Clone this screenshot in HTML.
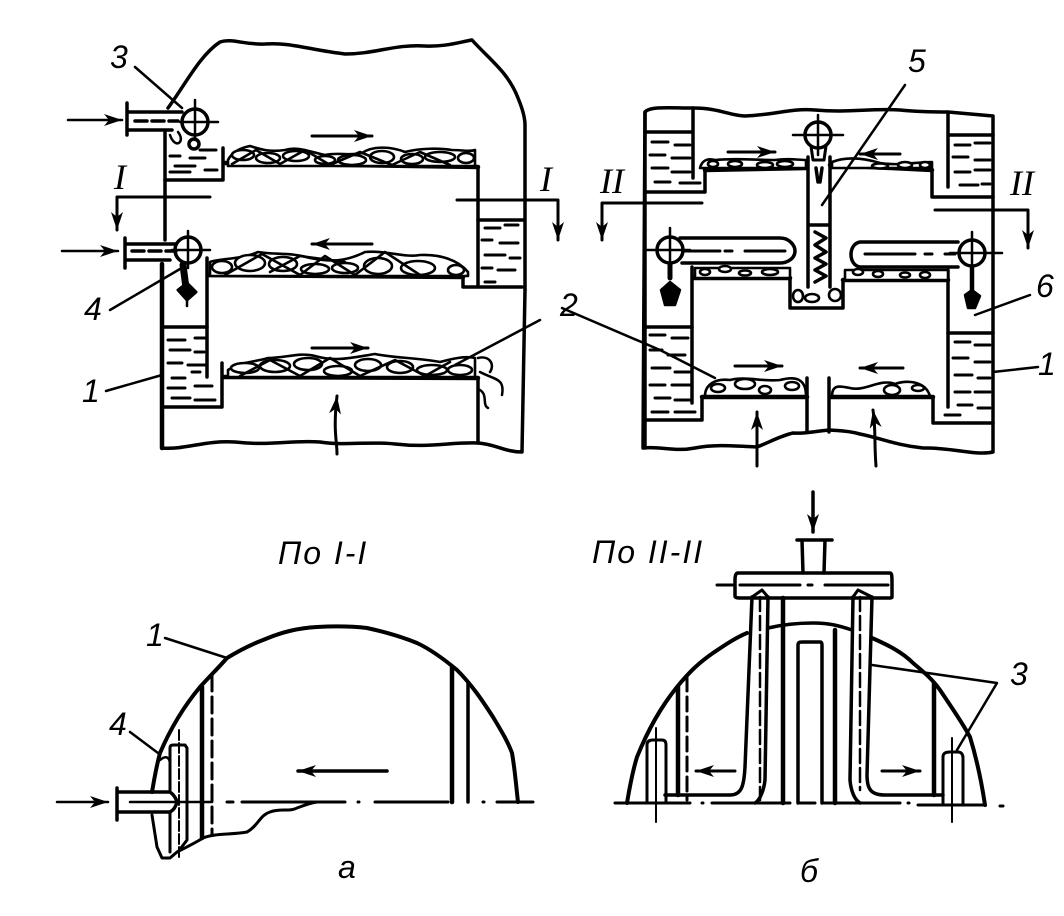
<!DOCTYPE html>
<html><head><meta charset="utf-8"><style>
html,body{margin:0;padding:0;background:#fff}
svg{display:block}
.t{font-family:"Liberation Sans",sans-serif;font-style:italic;fill:#000}
.s{font-family:"Liberation Serif",serif;font-style:italic;fill:#000}
</style></head><body>
<svg width="1064" height="916" viewBox="0 0 1064 916" xmlns="http://www.w3.org/2000/svg">
<defs>
<marker id="a" markerWidth="22" markerHeight="14" refX="18" refY="6" orient="auto" markerUnits="userSpaceOnUse"><path d="M0 0L18 6L0 12L5 6Z" fill="#000"/></marker>
</defs>
<g fill="none" stroke="#000" stroke-width="3.5" stroke-linejoin="round" stroke-linecap="round">

<!-- PANEL A -->
<path d="M168 108C185 85 200 55 220 42C232 38 245 45 265 44C290 42 310 50 345 54C375 54 395 44 425 46C445 47 460 42 472 40C490 60 508 72 518 98C523 110 525 118 525 125V290" />
<path d="M525 290L522 452C505 452 495 444 478 443C450 442 430 448 395 444C370 441 345 446 320 442C290 440 270 446 235 442C205 440 185 450 162 448V264"/>
<path d="M165 131V240" />
<path d="M162 264V448" stroke-width="4.5"/>
<path d="M165 180H223V148M225 163L478 167V287M463 275V287H522"/>
<path d="M225 163L478 167" stroke-width="4.5"/>
<path d="M478 220H524"/>
<path d="M207 258V377M208 275L463 277"/>
<path d="M208 275L463 277" stroke-width="4.5"/>
<path d="M162 327H207M162 407H222V363M223 377L478 378V443"/>
<path d="M223 377L478 378" stroke-width="4.5"/>
<path d="M117 197H210M117 197V230" marker-end="url(#a)" stroke-width="3"/>
<path d="M457 200H558V240" marker-end="url(#a)" stroke-width="3"/>
<!-- pipes A -->
<path d="M127 103V135M127 112H182M127 130H172"/>
<path d="M68 120H122" marker-end="url(#a)" stroke-width="2.5"/>
<path d="M62 251H118" marker-end="url(#a)" stroke-width="2.5"/>
<path d="M125 238V268M125 244H177M125 260H170"/>
<circle cx="195" cy="122" r="13" fill="#fff"/><path d="M195 100V140M180 122H218" stroke-width="2.5"/>
<circle cx="188" cy="250" r="13" fill="#fff"/><path d="M188 231V268M172 250H210" stroke-width="2.5"/>
<path d="M135 121H178M132 251H176" stroke-dasharray="12 5"/>
<circle cx="194" cy="144" r="5"/>
<path d="M170 135C175 150 186 142 178 132" stroke-width="2.5"/>
<path d="M183 265L186 288" stroke-width="7"/><path d="M178 290L187 283L196 292L187 300Z" fill="#000" stroke-width="3"/>
<path d="M187 298V306" stroke-width="2.5"/>
<!-- liquid A -->
<g stroke-width="3">
<path d="M170 156H180M190 158H205M175 166H195M205 170H217M170 172H190M200 150H216"/>
<path d="M485 228H500M505 225H518M482 240H492M500 243H518M485 255H505M510 258H520M482 268H492M498 270H515M485 282H495"/>
<path d="M168 340H185M195 338H205M170 350H190M195 352H204M168 363H182M188 365H205M172 378H185M192 372H200M168 388H185M195 386H212M172 398H190M195 400H215"/>
</g>
<!-- rocks A1 -->
<g stroke-width="2.6" fill="#fff">
<path d="M228 160C232 152 240 148 250 146C262 150 270 152 285 150C298 146 310 152 325 155C338 152 350 156 362 153C372 146 390 146 405 152C420 148 440 148 452 150C462 150 470 152 475 150V166H228Z"/>
<ellipse cx="243" cy="155" rx="11" ry="5"/><ellipse cx="268" cy="158" rx="12" ry="5"/><ellipse cx="296" cy="156" rx="13" ry="5"/><ellipse cx="325" cy="160" rx="10" ry="4"/><ellipse cx="352" cy="160" rx="14" ry="5"/><ellipse cx="382" cy="157" rx="12" ry="6"/><ellipse cx="412" cy="159" rx="11" ry="5"/><ellipse cx="440" cy="157" rx="15" ry="5"/><ellipse cx="466" cy="158" rx="8" ry="5"/>
<path fill="none" d="M232 164L256 150L280 164L305 150L330 165L360 152L392 165L420 152L450 165"/>
<!-- rocks A2 -->
<path d="M210 262C220 258 240 260 258 252C275 255 290 252 310 258C330 262 345 262 365 252C385 250 405 258 420 255C440 254 458 260 468 272V276H210Z"/>
<ellipse cx="222" cy="267" rx="10" ry="6"/><ellipse cx="250" cy="263" rx="15" ry="8"/><ellipse cx="283" cy="264" rx="14" ry="7"/><ellipse cx="315" cy="269" rx="14" ry="5"/><ellipse cx="345" cy="268" rx="13" ry="5"/><ellipse cx="378" cy="266" rx="14" ry="8"/><ellipse cx="418" cy="268" rx="17" ry="7"/><ellipse cx="456" cy="270" rx="8" ry="5"/>
<path fill="none" d="M225 275L262 254L300 275L325 256L355 275L385 252L420 275M270 272L300 256L345 262"/>
<!-- rocks A3 -->
<path d="M228 370C240 362 255 362 268 358C285 358 300 352 315 356C335 362 350 358 375 354C395 358 420 358 440 362C455 358 465 356 475 358V377H228Z"/>
<ellipse cx="245" cy="368" rx="14" ry="5"/><ellipse cx="275" cy="366" rx="15" ry="6"/><ellipse cx="308" cy="364" rx="14" ry="6"/><ellipse cx="338" cy="371" rx="14" ry="5"/><ellipse cx="368" cy="365" rx="13" ry="6"/><ellipse cx="400" cy="367" rx="13" ry="6"/><ellipse cx="432" cy="370" rx="15" ry="5"/><ellipse cx="460" cy="370" rx="12" ry="5"/>
<path fill="none" d="M240 376L270 360L300 376L330 358L360 376L395 360L425 376L450 362"/>
</g>
<path d="M478 358C490 355 495 365 490 372M480 372C495 380 505 378 502 395M480 390C488 395 482 405 488 408" stroke-width="2.5"/>
<!-- flow arrows A -->
<path d="M312 136H372" marker-end="url(#a)" stroke-width="3"/>
<path d="M372 244H312" marker-end="url(#a)" stroke-width="3"/>
<path d="M312 348H368" marker-end="url(#a)" stroke-width="3"/>
<path d="M337 454C337 440 333 432 337 396" marker-end="url(#a)" stroke-width="3"/>
<!-- leaders A -->
<g stroke-width="2.5">
<path d="M135 67L182 108M110 310L180 269M106 391L162 375M455 365L540 320"/>
</g>

<!-- PANEL B -->
<path d="M645 112C650 106 670 108 693 108C720 108 730 116 745 116C775 115 790 108 815 110C850 113 870 108 900 110C920 112 935 112 948 112L993 116V452C975 456 950 447 923 448C895 445 880 438 860 434C845 430 838 431 830 430C815 431 805 434 793 433C780 436 770 442 757 447C735 446 715 444 695 448C675 452 660 446 643 448Z"/>
<path d="M645 112V448"/>
<path d="M645 132H693M693 108V178M645 192H705V168M705 170L807 168M830 165L932 170V197H993M948 113V187M948 135H993"/>
<path d="M705 170L807 168M830 165L932 170" stroke-width="4.5"/>
<path d="M808 157V287M830 157V287M808 225H830"/>
<path d="M693 278H790V308H843V280H948M692 267V403M948 270V407"/>
<path d="M693 278H790M843 280H948" stroke-width="4.5"/>
<path d="M645 327H692M948 333H993M645 420H702V397H807M807 378V432M829 378V432M830 397H933V423H993"/>
<path d="M702 397H807M830 397H933" stroke-width="4.5"/>
<path d="M602 203H702M602 203V240" marker-end="url(#a)" stroke-width="3"/>
<path d="M935 210H1028V248" marker-end="url(#a)" stroke-width="3"/>
<!-- B pipes -->
<path d="M680 238H780C790 238 795 246 795 251C795 258 788 263 780 263H682" fill="#fff"/>
<path d="M860 242H958M860 267H958M860 242C848 244 848 265 860 267" fill="#fff"/>
<path d="M685 251H720M725 251H732M745 251H785M865 254H915M925 254H932M945 254H955" stroke-width="3"/>
<circle cx="670" cy="250" r="13" fill="#fff"/><path d="M670 228V270M645 250H690" stroke-width="2.5"/>
<circle cx="972" cy="253" r="13" fill="#fff"/><path d="M972 232V275M950 253H1002" stroke-width="2.5"/>
<circle cx="818" cy="135" r="13" fill="#fff"/><path d="M818 115V155M793 135H843" stroke-width="2.5"/>
<path d="M811 146L813 160H824L826 146" stroke-width="3"/>
<path d="M670 265V278" stroke-width="5"/><path d="M661 290L670 282L680 290L675 305H665Z" fill="#000" stroke-width="2.5"/>
<path d="M972 268V290" stroke-width="4.5"/><path d="M965 295L972 290L980 296L975 308H968Z" fill="#000" stroke-width="2.5"/>
<path d="M816 168L818 182M822 168L820 182" stroke-width="3.5"/>
<!-- B liquid -->
<g stroke-width="3">
<path d="M652 142H668M675 145H690M650 155H665M672 158H690M652 168H668M672 172H690M655 182H670M680 183H700"/>
<path d="M955 145H970M975 143H990M953 157H968M975 160H990M955 172H970M975 170H990M960 185H978M982 184H990"/>
<path d="M815 232L826 238L815 245L826 252L815 258L826 264L815 270L826 276L815 282" stroke-width="3.5"/>
<path d="M650 335H665M672 338H688M650 350H662M668 355H685M652 368H670M675 372H690M650 385H665M672 385H690M655 398H670M675 400H690M652 412H668M675 412H695"/>
<path d="M955 342H970M975 345H990M953 358H968M975 362H990M955 375H972M978 378H990M955 392H970M975 392H990M958 405H972M978 408H990M945 415H960"/>
</g>
<!-- B rocks -->
<g stroke-width="2.6" fill="#fff">
<path d="M700 168C702 160 708 158 715 160C735 158 755 160 775 160C790 158 798 160 806 160V168H700Z"/>
<ellipse cx="713" cy="164" rx="5" ry="3"/><ellipse cx="735" cy="164" rx="7" ry="3"/><ellipse cx="765" cy="165" rx="8" ry="3"/><ellipse cx="785" cy="164" rx="8" ry="3"/>
<path d="M832 162C850 155 870 160 880 163C900 166 915 162 932 162V168H832Z"/>
<ellipse cx="880" cy="166" rx="8" ry="2.5"/><ellipse cx="905" cy="165" rx="7" ry="3"/><ellipse cx="925" cy="165" rx="5" ry="3"/>
<path d="M695 268H790V278H695Z"/>
<ellipse cx="705" cy="272" rx="5" ry="3"/><ellipse cx="725" cy="269" rx="6" ry="3"/><ellipse cx="745" cy="273" rx="6" ry="2.5"/><ellipse cx="770" cy="272" rx="8" ry="3"/>
<path d="M845 270H948V280H845Z"/>
<ellipse cx="858" cy="272" rx="5" ry="3"/><ellipse cx="878" cy="274" rx="5" ry="3"/><ellipse cx="905" cy="275" rx="5" ry="2.5"/><ellipse cx="925" cy="275" rx="5" ry="3"/>
<ellipse cx="798" cy="296" rx="5" ry="6"/><ellipse cx="812" cy="298" rx="7" ry="4"/><ellipse cx="835" cy="295" rx="6" ry="6"/>
<path d="M705 396C705 385 715 378 730 380C745 376 765 382 780 380C795 376 806 378 806 396Z"/>
<ellipse cx="718" cy="388" rx="7" ry="4"/><ellipse cx="745" cy="384" rx="10" ry="5"/><ellipse cx="765" cy="390" rx="6" ry="4"/><ellipse cx="792" cy="386" rx="7" ry="4"/>
<path d="M832 396C832 384 840 386 850 388C865 392 880 378 895 384C905 380 925 380 930 396Z"/>
<ellipse cx="892" cy="390" rx="8" ry="5"/><ellipse cx="918" cy="388" rx="6" ry="3"/>
</g>
<!-- B arrows & leaders -->
<path d="M728 152H775" marker-end="url(#a)" stroke-width="3"/>
<path d="M900 154H860" marker-end="url(#a)" stroke-width="3"/>
<path d="M735 366H782" marker-end="url(#a)" stroke-width="3"/>
<path d="M903 368H860" marker-end="url(#a)" stroke-width="3"/>
<path d="M757 466V412" marker-end="url(#a)" stroke-width="3"/>
<path d="M876 466C874 440 876 430 873 410" marker-end="url(#a)" stroke-width="3"/>
<g stroke-width="2.5">
<path d="M905 85L822 205M1030 295L975 315M1038 367L993 372M562 308L660 350L715 378"/>
</g>

<!-- LOWER LEFT -->
<path d="M152 792C155 775 156 768 160 753C172 725 185 705 200 687C212 674 220 666 227 658C240 650 250 645 263 640C282 632 298 628 317 627C335 626 350 626 367 628C385 632 400 636 417 643C432 650 445 660 457 670C472 685 482 700 493 717C502 732 508 742 512 753C515 770 516 785 518 802" stroke-width="4"/>
<path d="M202 687V838" stroke-width="4.5"/>
<path d="M212 675V835" stroke-width="3" stroke-dasharray="16 6"/>
<path d="M452 667V802" stroke-width="4.5"/>
<path d="M468 683V802"/>
<path d="M227 802H233M242 802H345M375 802H448M497 802H533M358 802H359M483 802H484" stroke-width="3"/>
<path d="M130 802H212" stroke-width="2.5"/>
<path d="M57 802H108" marker-end="url(#a)" stroke-width="2.5"/>
<path d="M387 771H298" marker-end="url(#a)" stroke-width="3.5"/>
<path d="M117 788V820M117 792H170C174 795 176 798 177 802C176 806 174 810 170 812H117"/>
<path d="M170 790V748C170 745 172 745 174 745H185L187 748V840L178 852M170 812V852" stroke-width="3"/>
<path d="M179 730V860" stroke-width="2" stroke-dasharray="10 3"/>
<path d="M160 760C166 755 170 757 170 765" stroke-width="2.5"/>
<path d="M152 815L157 847L162 858H170L177 852C185 848 195 843 203 838C215 833 230 835 247 832C258 826 260 815 270 812C280 808 290 812 297 808C305 805 310 803 317 802" stroke-width="3"/>
<path d="M165 638L227 658M130 732L158 753" stroke-width="2.5"/>

<!-- LOWER RIGHT -->
<path d="M813 492V532" marker-end="url(#a)" stroke-width="3.5"/>
<path d="M797 540H832M802 540L803 573M825 540L824 573"/>
<path d="M738 573H890C892 573 892 576 892 585V597C892 598 890 598 888 598H742C738 598 735 598 735 596V580C735 575 736 573 738 573Z"/>
<path d="M717 585H735M740 585H800M808 585H812M825 585H888" stroke-width="3"/>
<path d="M627 803C630 785 633 770 637 757C648 730 660 708 677 687C690 671 700 662 713 653C725 645 735 638 747 633" stroke-width="4"/>
<path d="M872 638C888 645 902 652 913 663C925 673 933 680 940 690C952 708 962 722 970 737C977 760 982 785 985 805" stroke-width="4"/>
<path d="M768 628C785 624 800 623 813 623C830 623 840 626 852 630"/>
<path d="M783 598V803" stroke-width="4.5"/>
<path d="M835 630V803" stroke-width="4.5"/>
<path d="M798 803V645C798 642 800 642 803 642H820C822 642 822 644 822 646V803"/>
<path d="M752 597L745 767C744 785 742 795 730 795H665"/>
<path d="M768 597L765 780C764 790 760 800 755 803"/>
<path d="M853 597L850 780C851 792 855 800 860 803"/>
<path d="M872 597L867 775C867 788 870 795 885 795H943"/>
<path d="M760 597V800M860 597V790" stroke-width="2.5" stroke-dasharray="14 5"/>
<path d="M762 590L752 597M762 590L768 597M858 590L853 597M858 590L872 597" stroke-width="3"/>
<path d="M678 687V795" stroke-width="4.5"/>
<path d="M687 677V800" stroke-width="3" stroke-dasharray="14 6"/>
<path d="M934 683V795" stroke-width="4.5"/>
<path d="M647 803V745C647 741 650 740 653 740H662C665 740 666 742 666 745V803" stroke-width="3"/>
<path d="M656 728V822" stroke-width="2"/>
<path d="M943 803V757C943 753 946 752 950 752H958C961 752 963 754 963 758V803" stroke-width="3"/>
<path d="M952 738V822" stroke-width="2"/>
<path d="M615 803H690M702 803H703M712 803H790M800 803H815M822 803H900M908 803H909M918 805H985M1000 806H1003" stroke-width="3"/>
<path d="M735 771H696" marker-end="url(#a)" stroke-width="3"/>
<path d="M882 771H920" marker-end="url(#a)" stroke-width="3"/>
<path d="M872 665L997 683L957 750" stroke-width="2.5"/>
</g>

<!-- LABELS -->
<g font-size="32">
<text class="t" x="110" y="68">3</text>
<text class="t" x="84" y="320">4</text>
<text class="t" x="82" y="402">1</text>
<text class="t" x="908" y="72">5</text>
<text class="t" x="1036" y="297">6</text>
<text class="t" x="1038" y="375">1</text>
<text class="t" x="560" y="316">2</text>
<text class="t" x="146" y="646">1</text>
<text class="t" x="109" y="735">4</text>
<text class="t" x="1010" y="685">3</text>
<text class="t" x="338" y="878">а</text>
<text class="t" x="800" y="882">б</text>
</g>
<g font-size="36">
<text class="s" x="114" y="189">I</text>
<text class="s" x="540" y="191">I</text>
<text class="s" x="600" y="193">II</text>
<text class="s" x="1010" y="195">II</text>
</g>
<text class="t" x="278" y="564" font-size="32" letter-spacing="2">По I-I</text>
<text class="t" x="592" y="563" font-size="32" letter-spacing="2">По II-II</text>
</svg>
</body></html>
